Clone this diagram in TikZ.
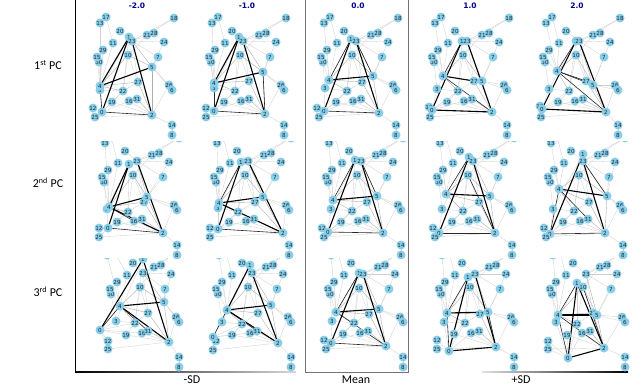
\documentclass[tikz,border=0pt]{standalone}
\usepackage{fontspec}
\setmainfont{Carlito}
\newfontfamily\vfont{DejaVu Sans}
\definecolor{skyb}{RGB}{135,206,235}
\definecolor{hdrblue}{RGB}{0,0,140}
\tikzset{
  vtx/.style={circle, fill=skyb, inner sep=0pt, minimum size=9pt,
    font=\vfont\fontsize{5.6}{5.6}\selectfont, text=black!85},
  ge/.style={draw=black!18, line width=0.35pt},
  gd/.style={draw=black!32, line width=0.4pt},
  thk/.style={draw=black, line width=1.1pt},
  med/.style={draw=black!85, line width=0.6pt},
  hdr/.style={font=\vfont\bfseries\fontsize{7.5}{7.5}\selectfont, text=hdrblue},
  lab/.style={font=\fontsize{12}{12}\selectfont, text=black},
}
\def\baselist{17/30/17,13/24/23,18/98/18,20/44/31,21/71/35,28/78/33,24/88/42,11/37/43,10/52/55,29/27/50,30/23/62,15/21/57,7/82/57,26/93/85,6/96/90,3/25/88,4/29/80,27/62/82,5/73/76,22/47/91,19/36/102,16/53/101,31/61/99,12/17/108,0/24/111,25/19/117,2/79/113,14/96/125,8/96/135,1/51/39,23/56/41}
\def\lightedges{18/21,18/23,28/23,21/10,24/23,24/5,7/5,7/23,20/23,11/4,13/4,17/11,29/4,15/4,30/3,10/27,10/22,1/3,5/26,5/6,27/22,22/0,22/3,3/0,19/2,16/2,0/16,0/19,12/0,25/0,25/2,2/14,14/8,26/2,19/22,1/22,23/27}
\def\darkedges{10/4,10/5,23/5,4/22,4/27,27/2,31/2,5/2}
\def\nodeorder{17,13,18,20,21,28,24,11,10,29,30,15,7,26,6,3,4,27,5,22,19,16,31,12,0,25,2,14,8,1,23}
% #1 id, #2 ox, #3 oy, #4 clip top, #5 clip bottom, #6 overrides, #7 thick, #8 medium
\newcommand\drawpanel[8]{%
\begin{scope}[shift={(#2,#3)}]
  \clip (-4,#4) rectangle (108,#5);
  \foreach \n/\a/\b in \baselist {\coordinate (#1-\n) at (\a,\b);}
  \foreach \n/\a/\b in {#6} {\coordinate (#1-\n) at (\a,\b);}
  \foreach \p/\q in \lightedges {\draw[ge] (#1-\p) -- (#1-\q);}
  \foreach \p/\q in \darkedges {\draw[gd] (#1-\p) -- (#1-\q);}
  \foreach \p/\q in {#8} {\draw[med] (#1-\p) -- (#1-\q);}
  \foreach \p/\q in {#7} {\draw[thk] (#1-\p) -- (#1-\q);}
  \foreach \n in \nodeorder {\node[vtx] (#1-v\n) at (#1-\n) {\n};}
\end{scope}}
\begin{document}
\begin{tikzpicture}[x=1pt,y=-1pt]
\useasboundingbox (0,0) rectangle (632,386);
% frame
\draw[black, line width=0.8pt] (75,0) -- (75,372);
\shade[left color=black, right color=black!15] (75,371.4) rectangle (296,372.6);
\shade[left color=black!12, right color=black] (482,371.4) rectangle (628,372.6);
\draw[black!55, line width=0.8pt] (305,0) -- (305,372) -- (408,372) -- (408,0);
% headers
\node[hdr] (h1) at (137,6) {-2.0};
\node[hdr] (h2) at (247,6) {-1.0};
\node[hdr] (h3) at (358,6) {0.0};
\node[hdr] (h4) at (470,6) {1.0};
\node[hdr] (h5) at (577,6) {2.0};
% row labels
\node[lab] (r1) at (48,65) {1\textsuperscript{st} PC};
\node[lab] (r2) at (48,183) {2\textsuperscript{nd} PC};
\node[lab] (r3) at (48,292) {3\textsuperscript{rd} PC};
% bottom labels
\node[lab] (bl) at (192,380) {-SD};
\node[lab] (bm) at (356,380) {Mean};
\node[lab] (br) at (521,380) {+SD};
% row 1
\drawpanel{a}{76}{0}{0}{141}{1/53/37,23/56/41,5/76/67,4/24/86,3/24/90,0/26/112,2/76/115}{1/4,1/0,23/2,4/5}{4/0,0/2}
\drawpanel{b}{188}{0}{0}{141}{1/51/37,23/55/41,5/75/72,4/26/83,3/26/88,27/61/81,0/26/111,12/18/108,25/18/117,2/77/114}{1/4,1/0,23/2,4/5}{4/0,5/2,0/2}
\drawpanel{c}{300}{0}{0}{141}{1/51/39}{1/0,23/2,4/5}{1/4,0/2,23/5}
\drawpanel{d}{411}{0}{0}{141}{1/51/41,23/56/41,4/32/76,3/26/89,27/63/81,5/71/81,0/21/110,12/18/107,2/81/112}{1/0,23/2,4/27,0/2}{4/2,1/4,27/5}
\drawpanel{e}{522}{0}{0}{141}{1/54/41,23/57/41,10/54/55,4/35/71,27/64/81,5/71/85,3/27/89,0/20/109,12/18/106,2/84/112}{1/0,23/2,0/2}{4/27,4/2,1/4,4/5}
% row 2
\drawpanel{f}{81}{120}{21}{138}{1/48/44,23/56/41,5/66/77,27/63/82,4/28/87,3/26/89,22/47/92,0/27/108,2/82/113,12/18/108,25/18/117}{1/4,1/0,23/2,4/5,4/2}{0/2,4/16}
\drawpanel{g}{193}{120}{21}{138}{1/48/42,23/55/41,4/26/83,3/25/88,5/70/77,27/62/82,22/45/92,0/25/109,12/17/108,25/17/117,2/90/113}{1/0,23/2,4/5,4/2}{0/2,1/4}
\drawpanel{h}{305}{120}{21}{138}{1/50/40,4/28/80,5/72/76,3/26/89,0/23/112,2/78/113}{1/0,23/2,4/5}{1/4,0/2,23/5}
\drawpanel{i}{416}{120}{21}{138}{1/53/37,23/57/41,4/30/74,5/74/76,27/63/82,3/26/89,0/23/113}{1/0,23/2,4/5}{1/4,0/2,10/2}
\drawpanel{j}{527}{120}{21}{138}{1/56/34,23/56/41,4/32/69,5/80/76,0/23/114,2/78/113,3/26/89}{1/0,23/2,4/5}{23/5,4/0,4/31,0/2}
% row 3
\drawpanel{k}{83}{232}{26}{140}{1/60/27,23/60/41,10/57/55,5/81/70,4/37/74,27/65/81,3/33/89,22/52/91,0/17/98,19/43/103,16/59/101,31/65/99,2/86/110,12/25/109,25/25/117,15/27/57,30/28/62,29/34/50,11/44/43,20/50/31}{1/0,1/2,4/5,4/2}{4/31,4/0}
\drawpanel{l}{195}{232}{26}{140}{1/55/33,23/57/41,20/47/31,10/53/55,5/76/73,4/32/78,27/63/81,3/27/90,22/47/92,0/18/105,12/21/109,19/37/103,16/55/101,31/62/99,2/83/111,25/18/118}{1/4,4/5,23/2,4/2}{4/0,4/31}
\drawpanel{m}{307}{232}{26}{140}{1/52/41,23/56/42,10/52/56,4/29/80,5/72/77,3/25/89,0/24/111,2/79/114}{1/0,23/2,4/5}{1/4,0/2,4/2}
\drawpanel{n}{418}{232}{26}{140}{1/50/45,23/57/42,4/29/81,5/70/80,3/26/90,0/31/119,2/78/115,12/19/108,25/19/117}{1/0,23/2,4/5,0/2}{1/4,4/0,5/2}
\drawpanel{o}{529}{232}{26}{140}{23/57/42,1/48/51,10/54/55,4/29/83,3/27/90,27/64/81,5/68/83,22/48/92,19/38/103,0/39/126,2/75/116,12/19/109,25/19/117}{1/0,1/2,4/5,0/2}{10/2,4/0,4/2,1/4}
\end{tikzpicture}
\end{document}
